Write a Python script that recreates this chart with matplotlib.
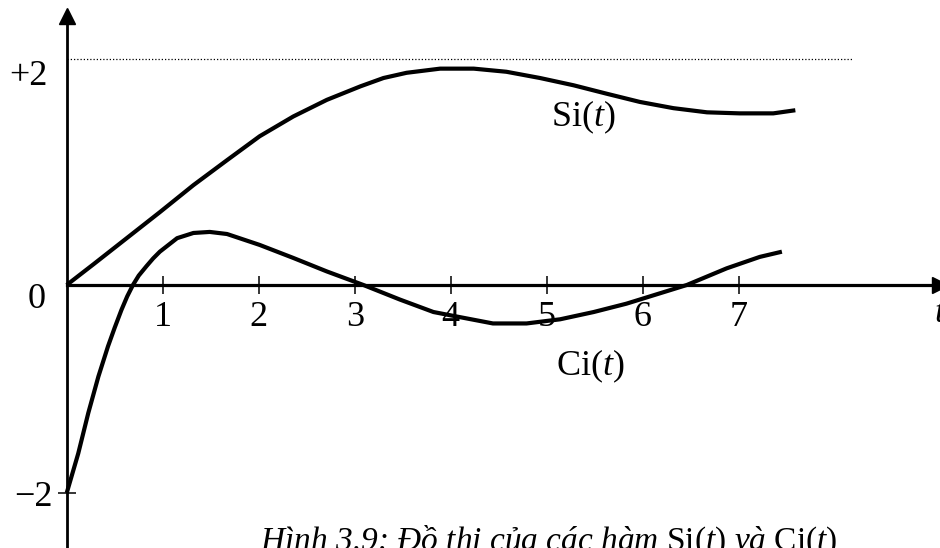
# Si(t) and Ci(t) sketch (Hinh 3.9)
import matplotlib
matplotlib.use("Agg")
import matplotlib.pyplot as plt

plt.rcParams['font.family'] = ['Liberation Serif', 'DejaVu Serif']
plt.rcParams['mathtext.fontset'] = 'custom'
plt.rcParams['mathtext.rm'] = 'Liberation Serif'
plt.rcParams['mathtext.it'] = 'Liberation Serif:italic'

# values
si_t = [0.0, 0.28, 0.625, 0.97, 1.32, 1.67, 2.01, 2.36, 2.71, 3.06, 3.3, 3.54,
        3.89, 4.24, 4.58, 4.93, 5.28, 5.62, 5.97, 6.32, 6.67, 7.01, 7.36, 7.59]
si_y = [0.0, 0.20, 0.45, 0.70, 0.96, 1.20, 1.43, 1.62, 1.78, 1.91, 1.99, 2.04,
        2.08, 2.08, 2.05, 1.99, 1.92, 1.84, 1.76, 1.70, 1.66, 1.65, 1.65, 1.68]

ci_t = [0.0, 0.12, 0.225, 0.33, 0.43, 0.50, 0.57, 0.63, 0.69, 0.75, 0.83, 0.90,
        0.97, 1.15, 1.32, 1.49, 1.67, 2.01, 2.36, 2.71, 3.09, 3.47, 3.82, 4.10,
        4.44, 4.79, 5.14, 5.49, 5.83, 6.18, 6.46, 6.875, 7.22, 7.45]
ci_y = [-2.0, -1.62, -1.23, -0.88, -0.59, -0.41, -0.24, -0.11, 0.0, 0.09, 0.18, 0.255,
        0.32, 0.45, 0.50, 0.51, 0.49, 0.385, 0.26, 0.13, 0.0, -0.14, -0.26, -0.31,
        -0.37, -0.37, -0.33, -0.26, -0.18, -0.08, 0.0, 0.16, 0.27, 0.32]

x_ticks = [1, 2, 3, 4, 5, 6, 7]
x_tick_labels = ['1', '2', '3', '4', '5', '6', '7']
y_ticks = [-2]
y_labels = ['+2', '0', '\u22122']
y_label_pos = [(-0.40, 2.0), (-0.31, -0.144), (-0.35, -2.04)]
si_limit = 2.17   # dotted level line

fig = plt.figure(figsize=(9.4, 5.48), dpi=100)
ax = fig.add_axes([0, 0, 1, 1])
ax.set_xlim(-0.695, 9.097)
ax.set_ylim(-2.529, 2.740)

# axes through the origin
for s in ['top', 'right']:
    ax.spines[s].set_visible(False)
ax.spines['left'].set_position(('data', 0))
ax.spines['bottom'].set_position(('data', 0))
ax.spines['left'].set_linewidth(2.0)
ax.spines['bottom'].set_linewidth(2.3)
ax.spines['left'].set_bounds(-2.6, 2.55)
ax.spines['bottom'].set_bounds(0, 9.05)
ax.plot(0, 2.59, marker='^', color='k', markersize=12, clip_on=False)
ax.plot(9.1, 0, marker='>', color='k', markersize=12, clip_on=False)

ax.set_xticks(x_ticks)
ax.set_xticklabels([])
ax.set_yticks(y_ticks)
ax.set_yticklabels([])
ax.tick_params(direction='inout', length=13, width=1.1)

for tx, lab in zip(x_ticks, x_tick_labels):
    ax.text(tx, -0.317, lab, fontsize=26, ha='center', va='center')
for (px, py), lab in zip(y_label_pos, y_labels):
    ax.text(px, py, lab, fontsize=26, ha='center', va='center')
ax.text(9.04, -0.27, 't', fontsize=26, style='italic', ha='left', va='center')

ax.plot([0, 8.19], [si_limit, si_limit], color='k', lw=0.9, linestyle=(0, (1, 1.6)))
ax.plot(si_t, si_y, color='k', lw=3.0, solid_capstyle='butt', solid_joinstyle='round')
ax.plot(ci_t, ci_y, color='k', lw=3.0, solid_capstyle='butt', solid_joinstyle='round')

ax.text(5.38, 1.615, r'$\mathrm{Si}(t)$', fontsize=26, ha='center', va='center')
ax.text(5.45, -0.78, r'$\mathrm{Ci}(t)$', fontsize=26, ha='center', va='center')

fig.text(0.2766, -0.004, 'Hình 3.9: Đồ thị của các hàm $\\mathrm{Si}(t)$ và $\\mathrm{Ci}(t)$',
         fontsize=24, style='italic', ha='left', va='baseline')

fig.savefig('out.png', dpi=100)
